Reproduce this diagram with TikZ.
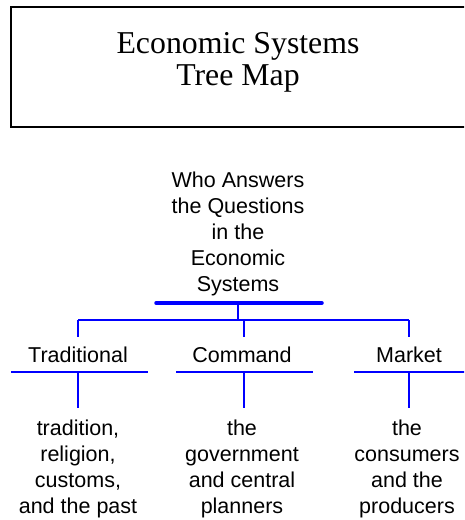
\documentclass[tikz,border=0pt]{standalone}
\usepackage{fontspec}
\setmainfont{Liberation Serif}
\setsansfont{Liberation Sans}

\begin{document}
\begin{tikzpicture}[x=1pt,y=-1pt,
  txt/.style={font=\sffamily\fontsize{21.5}{26}\selectfont,align=center,inner sep=0pt},
  bar/.style={draw=blue,line width=2pt},
  link/.style={draw=blue,line width=1.5pt}]
  \clip (0,0) rectangle (464,520);
  % heading box
  \node[font=\fontsize{31.8}{32}\selectfont,align=center,inner sep=0pt,anchor=north] (title) at (238,32.3) {Economic Systems\\Tree Map};
  \draw[line width=2pt] (11,7) rectangle (480,127);
  % top question and its bar
  \node[txt,anchor=north] (who) at (238,172) {Who Answers\\the Questions\\in the\\Economic\\Systems};
  \coordinate (whoL) at (156,303);
  \coordinate (whoR) at (322,303);
  \coordinate (whobar) at (238,303);
  \draw[bar,line width=3.5pt,line cap=round] (whoL) -- (whoR);
  % fork to the three systems
  \coordinate (fork) at (238,320);
  \coordinate (forkT) at (78,320);
  \coordinate (forkC) at (244,320);
  \coordinate (forkM) at (409,320);
  \coordinate (topT) at (78,337);
  \coordinate (topC) at (244,337);
  \coordinate (topM) at (409,337);
  \draw[link] (whobar) -- (fork);
  \draw[link] (forkT) -- (forkM);
  \draw[link] (forkT) -- (topT);
  \draw[link] (forkC) -- (topC);
  \draw[link] (forkM) -- (topM);
  % the systems
  \node[txt] (traditional) at (78,355) {Traditional};
  \node[txt] (command) at (242,355) {Command};
  \node[txt] (market) at (409,355) {Market};
  \coordinate (barT1) at (11,372);  \coordinate (barT2) at (148,372);
  \coordinate (barC1) at (176,372); \coordinate (barC2) at (313,372);
  \coordinate (barM1) at (354,372); \coordinate (barM2) at (491,372);
  \draw[bar] (barT1) -- (barT2);
  \draw[bar] (barC1) -- (barC2);
  \draw[bar] (barM1) -- (barM2);
  \coordinate (subT) at (78,372);  \coordinate (endT) at (78,408);
  \coordinate (subC) at (244,372); \coordinate (endC) at (244,408);
  \coordinate (subM) at (409,372); \coordinate (endM) at (409,408);
  \draw[link] (subT) -- (endT);
  \draw[link] (subC) -- (endC);
  \draw[link] (subM) -- (endM);
  % who answers in each system
  \node[txt,anchor=north] (tradwho) at (78,419.5) {tradition,\\religion,\\customs,\\and the past};
  \node[txt,anchor=north] (cmdwho) at (242,419.5) {the\\government\\and central\\planners};
  \node[txt,anchor=north] (mktwho) at (407,419.5) {the\\consumers\\and the\\producers};
\end{tikzpicture}
\end{document}
